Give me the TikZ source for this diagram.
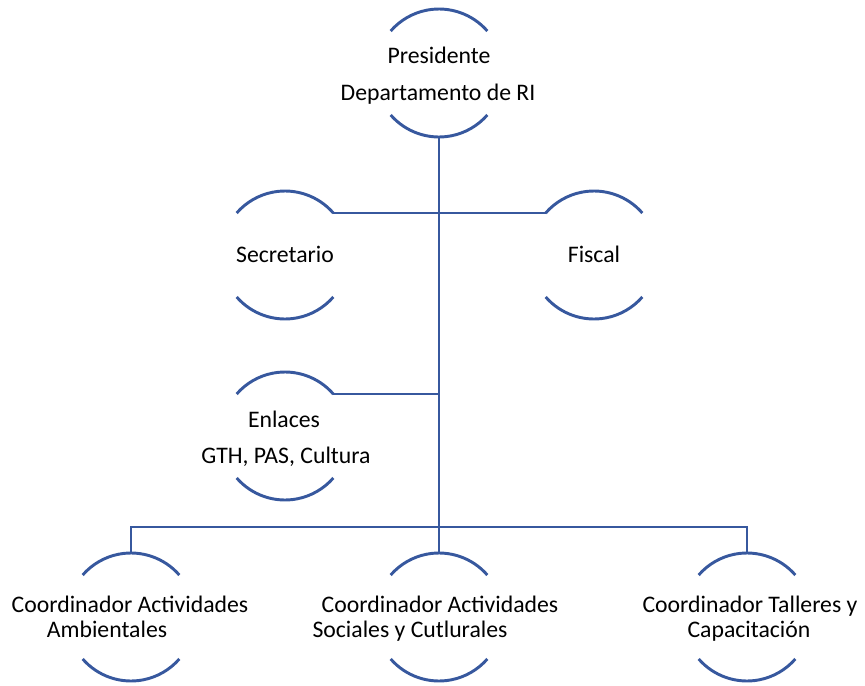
\documentclass[tikz,border=0pt]{standalone}
\usepackage{fontspec}
\setmainfont{Carlito}
\definecolor{linecol}{RGB}{55,88,158}
\begin{document}
\begin{tikzpicture}[x=0.75pt,y=0.75pt,
  ring/.style={circle,minimum size=96pt,inner sep=0pt,outer sep=0pt},
  arcs/.style={draw=linecol,line width=2.2pt},
  lbl/.style={anchor=base,inner sep=0pt,font=\fontsize{17.8}{21}\selectfont,text=black},
  conn/.style={draw=linecol,line width=2.2pt}]
\useasboundingbox (0,0) rectangle (865,-686);
% rings
\node[ring] (P) at (439,-73) {};
\node[ring] (S) at (285,-255) {};
\node[ring] (F) at (594,-255) {};
\node[ring] (E) at (285,-436) {};
\node[ring] (A) at (131,-617) {};
\node[ring] (M) at (439,-617) {};
\node[ring] (T) at (747,-617) {};
\foreach \n in {P,S,F,E,A,M,T}{
  \draw[arcs] (\n.41) arc[start angle=41,end angle=139,radius=48pt];
  \draw[arcs] (\n.221) arc[start angle=221,end angle=319,radius=48pt];
}
% texts
\node[lbl] (tP1) at (439,-63) {Presidente};
\node[lbl] (tP2) at (438,-100) {Departamento de RI};
\node[lbl] (tS) at (285,-262) {Secretario};
\node[lbl] (tF) at (594,-262) {Fiscal};
\node[lbl] (tE1) at (284,-427) {Enlaces};
\node[lbl] (tE2) at (286,-463) {GTH, PAS, Cultura};
\node[lbl] (tA1) at (130,-612) {Coordinador Actividades};
\node[lbl] (tA2) at (107,-637) {Ambientales};
\node[lbl] (tM1) at (440,-612) {Coordinador Actividades};
\node[lbl] (tM2) at (410,-637) {Sociales y Cutlurales};
\node[lbl] (tT1) at (750,-612) {Coordinador Talleres y};
\node[lbl] (tT2) at (749,-637) {Capacitación};
% connectors
\coordinate (bus) at (439,-527);
\draw[conn] (P.south) -- (M.north);
\draw[conn] (S.41) -- (F.139);
\draw[conn] (E.41) -- (E.41 -| P.south);
\draw[conn] (A.north) |- (bus) -| (T.north);
\end{tikzpicture}
\end{document}
